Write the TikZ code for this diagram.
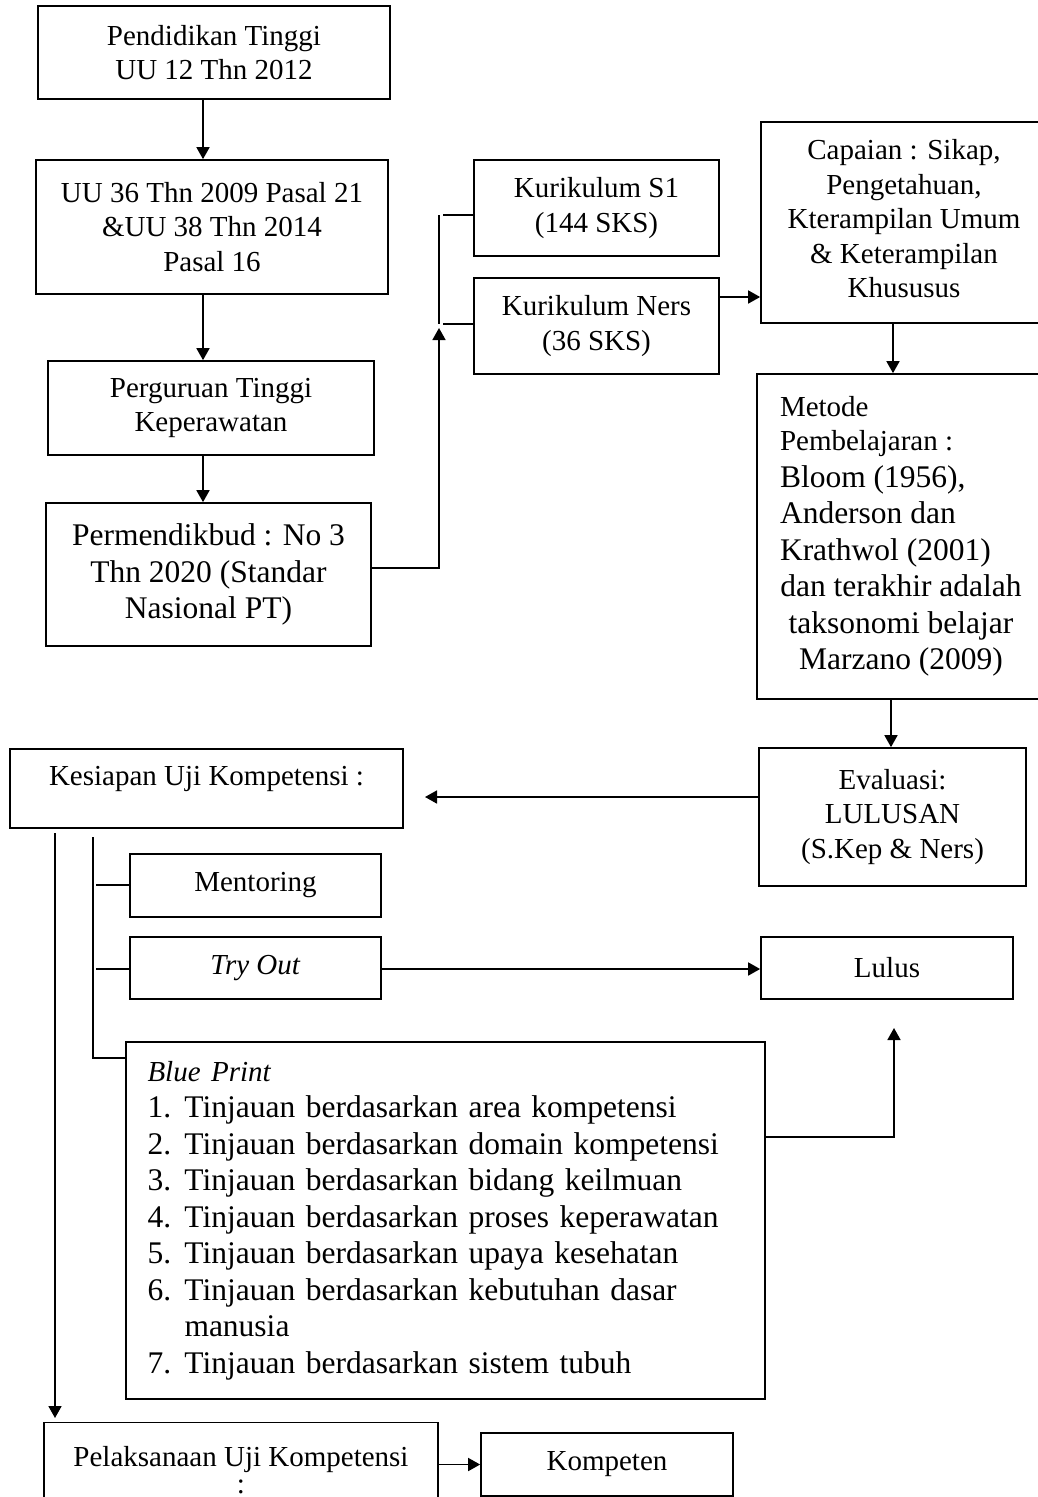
\documentclass[tikz,border=0pt]{standalone}
\usepackage{fontspec}
\setmainfont{Liberation Serif}
\usetikzlibrary{arrows.meta}
\newcommand\fa{\fontsize{29}{34.5}\selectfont}
\newcommand\fb{\fontsize{31.5}{36.5}\selectfont}
\begin{document}
\begin{tikzpicture}[x=1pt,y=-1pt,
  box/.style={draw,line width=1.7pt,rectangle,inner sep=0pt,align=center,font=\fa},
  ln/.style={line width=1.7pt},
  arr/.style={line width=1.7pt,-{Triangle[length=12pt,width=13pt]}}]
\useasboundingbox (0,0) rectangle (1038,1497);
\fill[white] (0,0) rectangle (1038,1497);
\clip (0,0) rectangle (1038,1497);

% left column
\node[box,minimum width=352,minimum height=93] (pend) at (214,52.5) {Pendidikan Tinggi\\UU 12 Thn 2012};
\node[box,minimum width=352,minimum height=134] (uu) at (212,227) {UU 36 Thn 2009 Pasal 21\\\&UU 38 Thn 2014\\Pasal 16};
\node[box,minimum width=326,minimum height=94] (pt) at (211,408) {Perguruan Tinggi\\Keperawatan};
\node[box,minimum width=325,minimum height=143,font=\fb] (perm) at (208.5,574.5) {Permendikbud : No 3\\Thn 2020 (Standar\\Nasional PT)};

% curriculum
\node[box,minimum width=245,minimum height=96] (ks1) at (596.5,208) {Kurikulum S1\\(144 SKS)};
\node[box,minimum width=245,minimum height=96] (kners) at (596.5,326) {Kurikulum Ners\\(36 SKS)};

% right column
\node[box,minimum width=286,minimum height=201,text depth=8pt] (cap) at (904,222.5) {Capaian : Sikap,\\Pengetahuan,\\Kterampilan Umum\\\& Keterampilan\\Khususus};
\node[box,minimum width=288,minimum height=325,font=\fb] (met) at (901,536.5) {\makebox[242pt][l]{\fa Metode}\\[-2.5pt]\makebox[242pt][l]{\fa Pembelajaran :}\\\makebox[242pt][l]{Bloom (1956),}\\\makebox[242pt][l]{Anderson dan}\\\makebox[242pt][l]{Krathwol (2001)}\\dan terakhir adalah\\taksonomi belajar\\Marzano (2009)};
\node[box,minimum width=267,minimum height=138] (eva) at (892.5,817) {Evaluasi:\\LULUSAN\\(S.Kep \& Ners)};

% lower part
\node[box,minimum width=393,minimum height=79,text depth=26pt] (kes) at (206.5,788.5) {Kesiapan Uji Kompetensi :};
\node[box,minimum width=251,minimum height=63] (ment) at (255.5,885.5) {Mentoring};
\node[box,minimum width=251,minimum height=62] (try) at (255.5,968) {\textit{Try Out}};
\node[box,minimum width=252,minimum height=62] (lulus) at (887,968) {Lulus};
\node[box,minimum width=639,minimum height=357,text width=596pt,align=left,font=\fb] (blue) at (445.5,1220.5) {{\fa\textit{Blue Print}}\\
\makebox[37pt][l]{1.}Tinjauan berdasarkan area kompetensi\\
\makebox[37pt][l]{2.}Tinjauan berdasarkan domain kompetensi\\
\makebox[37pt][l]{3.}Tinjauan berdasarkan bidang keilmuan\\
\makebox[37pt][l]{4.}Tinjauan berdasarkan proses keperawatan\\
\makebox[37pt][l]{5.}Tinjauan berdasarkan upaya kesehatan\\
\makebox[37pt][l]{6.}Tinjauan berdasarkan kebutuhan dasar\\
\hspace*{37pt}manusia\\
\makebox[37pt][l]{7.}Tinjauan berdasarkan sistem tubuh};
\node[box,minimum width=394,minimum height=95] (pel) at (241,1470) {Pelaksanaan Uji Kompetensi\\[-7pt]:};
\node[box,minimum width=252,minimum height=63] (komp) at (607,1464.5) {Kompeten};

% helper coordinates
\coordinate (vx) at (203,0);
\coordinate (b1) at (439,568);
\coordinate (b2) at (439,328);
\coordinate (bt) at (439,215);
\coordinate (bb) at (439,324);
\coordinate (bt2) at (443,215);
\coordinate (bb2) at (443,324);
\coordinate (cy) at (0,297);
\coordinate (mx) at (893,0);
\coordinate (ex) at (891,0);
\coordinate (ey) at (0,797);
\coordinate (ez) at (425,797);
\coordinate (k1) at (55,833);
\coordinate (k2) at (55,1418);
\coordinate (s1) at (93,837);
\coordinate (s2) at (93,1058);
\coordinate (sm) at (96,885);
\coordinate (st) at (96,969);
\coordinate (by) at (0,1137);
\coordinate (bx) at (894,1137);
\coordinate (bz) at (894,1028);

% connectors
\draw[arr] (pend.south -| vx) -- (uu.north -| vx);
\draw[arr] (uu.south -| vx) -- (pt.north -| vx);
\draw[arr] (pt.south -| vx) -- (perm.north -| vx);
\draw[arr] (perm.east |- b1) -- (b1) -- (b2);
\draw[ln] (bt) -- (bb);
\draw[ln] (bt2) -- (ks1.west |- bt2);
\draw[ln] (bb2) -- (kners.west |- bb2);
\draw[arr] (kners.east |- cy) -- (cap.west |- cy);
\draw[arr] (cap.south -| mx) -- (met.north -| mx);
\draw[arr] (met.south -| ex) -- (eva.north -| ex);
\draw[arr] (eva.west |- ey) -- (ez);
\draw[arr] (k1) -- (k2);
\draw[ln] (s1) -- (s2) -- (blue.west |- s2);
\draw[ln] (sm) -- (ment.west |- sm);
\draw[ln] (st) -- (try.west |- st);
\draw[arr] (try.east |- st) -- (lulus.west |- st);
\draw[arr] (blue.east |- by) -- (bx) -- (bz);
\draw[arr] (pel.east |- komp.west) -- (komp.west);
\end{tikzpicture}
\end{document}
